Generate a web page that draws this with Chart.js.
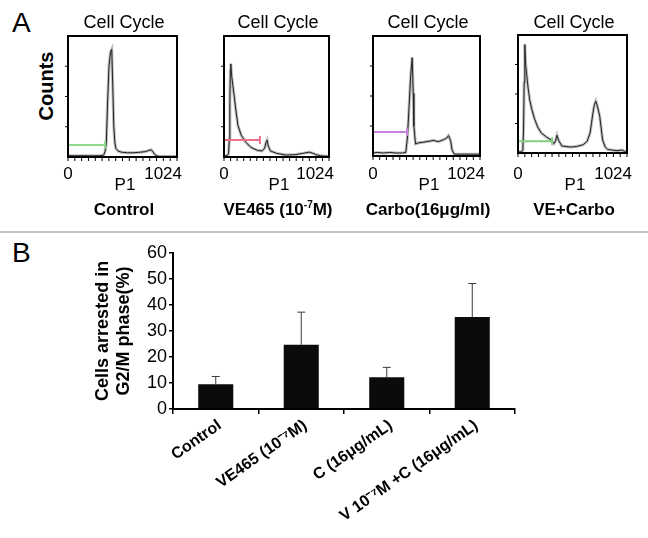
<!DOCTYPE html>
<html>
<head>
<meta charset="utf-8">
<script src="https://cdn.jsdelivr.net/npm/chart.js@4.4.1/dist/chart.umd.min.js"></script>
<style>
  body { margin: 0; background: #fff; }
  #page { position: relative; width: 648px; height: 538px; overflow: hidden; font-family: 'Liberation Sans', Arial, sans-serif; color: #000; }
  .t { position: absolute; line-height: 1; white-space: nowrap; }
  .c { transform: translateX(-50%); }
  canvas { position: absolute; }
  sup { font-size: 10px; vertical-align: 7px; line-height: 0; }
</style>
</head>
<body>
<div id="page">
  <div class="t" style="left:12px; top:9px; font-size:28px;">A</div>
  <div class="t" style="left:12px; top:239px; font-size:28px;">B</div>
  <div class="t" style="left:46px; top:86px; font-size:20px; font-weight:bold; transform:translate(-50%,-50%) rotate(-90deg);">Counts</div>
  <div style="position:absolute; left:0; top:231px; width:648px; height:2px; background:#c4c4c4;"></div>
  <canvas id="bars" width="563" height="298" style="left:85px; top:240px;"></canvas>
</div>
<script>
// panel A: DNA content histograms (x = channel 0..1024, y = relative counts)
const binsControl = [0, 100, 200, 300, 335, 350, 360, 370, 385, 400, 411, 420, 430, 440, 450, 470, 500, 560, 620, 680, 730, 760, 780, 800, 820, 850, 920, 1000, 1024];
const countsControl = [1, 1, 1, 1, 1.5, 5, 12, 40, 75, 87, 89, 60, 26, 12, 7, 5, 4, 3.5, 3.5, 4, 4.5, 5.5, 6, 4, 1.5, 0.5, 0.5, 0.5, 0.5];

const binsVE = [0, 30, 45, 52, 57, 62, 66, 76, 88, 100, 111, 136, 168, 215, 262, 325, 370, 395, 410, 420, 432, 452, 515, 607, 700, 768, 831, 870, 894, 942, 1024];
const countsVE = [1, 1, 3, 15, 45, 72, 77, 66, 58, 50, 42, 26, 18, 12, 8, 5.5, 5, 7, 12, 14, 9, 5, 3, 1.6, 2, 3, 4, 3, 2, 1, 0.5];

const binsCarbo = [0, 40, 100, 160, 220, 280, 314, 329, 344, 360, 375, 385, 391, 407, 437, 480, 515, 550, 577, 624, 660, 686, 705, 723, 742, 757, 779, 850, 950, 1024];
const countsCarbo = [2.5, 3, 2.5, 3, 2.5, 2.5, 3, 15, 39, 66, 82, 52, 25, 10, 11, 11.5, 12, 12.5, 13, 12, 13, 14, 15, 17, 13, 5, 1.5, 1.5, 1.5, 1.5];

const binsCombo = [0, 30, 45, 52, 58, 64, 72, 82, 95, 110, 130, 155, 185, 219, 260, 311, 338, 352, 366, 380, 411, 450, 494, 550, 613, 650, 677, 690, 704, 718, 731, 745, 768, 795, 820, 841, 880, 930, 978, 1000, 1024];
const countsCombo = [1, 1, 2, 20, 60, 92, 75, 66, 55, 45, 37, 29, 22, 17, 14, 11, 8, 10, 15, 11, 6, 5.5, 5, 5.5, 7, 10, 17, 25, 34, 41, 44, 40, 31, 11, 5, 3, 2.5, 2, 2.5, 1.5, 0.5];

const panelTitles = ['Control', 'VE465 (10<sup>-7</sup>M)', 'Carbo(16\u03bcg/ml)', 'VE+Carbo'];
const gateEnd = [347, 350, 326, 320];
const gateLevel = [10, 14, 20, 10];
const gateColors = ['#8fd98f', '#ee6f8c', '#c783dc', '#7fd07f'];

// panel B: cells arrested in G2/M
const groups = ['Control', 'VE465 (10\u207b\u2077M)', 'C (16\u03bcg/mL)', 'V 10\u207b\u2077M +C (16\u03bcg/mL)'];
const arrested = [9.5, 24.7, 12.2, 35.3];
const arrestedSD = [3, 12.5, 3.8, 12.9];
const yTicksB = [0, 60, 10];

Chart.defaults.font.family = "'Liberation Sans', Arial, sans-serif";
Chart.defaults.color = '#000';

const page = document.getElementById('page');
const boxes = [[68, 33, 112, 124], [224, 33, 108, 124], [373, 33, 110, 123], [518, 32, 112, 121]];

function addText(html, x, y, size, bold, align) {
  const d = document.createElement('div');
  d.className = 't' + (align === 'c' ? ' c' : '');
  d.innerHTML = html;
  d.style.fontSize = size + 'px';
  if (bold) d.style.fontWeight = 'bold';
  d.style.top = y + 'px';
  if (align === 'r') { d.style.right = (648 - x) + 'px'; } else { d.style.left = x + 'px'; }
  page.appendChild(d);
}

const frame = {
  id: 'frame',
  afterDraw(chart) {
    const { ctx, chartArea: a, scales } = chart;
    ctx.save();
    ctx.strokeStyle = '#000';
    ctx.lineWidth = 2;
    ctx.strokeRect(a.left, a.top, a.right - a.left, a.bottom - a.top);
    ctx.lineWidth = 1;
    ctx.beginPath();
    for (let v = 0; v <= 1024; v += 64) {
      const px = scales.x.getPixelForValue(v);
      ctx.moveTo(px, a.bottom);
      ctx.lineTo(px, a.bottom + 4);
    }
    for (let v = 25; v < 100; v += 25) {
      const py = scales.y.getPixelForValue(v);
      ctx.moveTo(a.left - 3, py);
      ctx.lineTo(a.left, py);
    }
    ctx.stroke();
    ctx.restore();
  }
};

function drawHistogram(i, bins, counts) {
  const [bx, by, bw, bh] = boxes[i];
  const cv = document.createElement('canvas');
  cv.width = bw + 11;
  cv.height = bh + 11;
  cv.style.left = (bx - 8) + 'px';
  cv.style.top = (by - 3) + 'px';
  page.appendChild(cv);

  const curve = bins.map((x, k) => ({ x: x, y: counts[k] }));
  new Chart(cv, {
    type: 'line',
    data: {
      datasets: [
        {
          data: [{ x: 0, y: gateLevel[i] }, { x: gateEnd[i], y: gateLevel[i] }],
          borderColor: gateColors[i],
          borderWidth: 2,
          pointStyle: 'line',
          pointRadius: 4,
          pointRotation: 90,
          pointBorderColor: gateColors[i],
          pointBorderWidth: 2,
        },
        { data: curve, borderColor: '#222', borderWidth: 1, pointRadius: 0 },
        { data: curve, borderColor: '#bdbdbd', borderWidth: 3, pointRadius: 0 },
      ],
    },
    options: {
      responsive: false,
      animation: false,
      layout: { padding: { left: 8, right: 3, top: 3, bottom: 8 } },
      plugins: { legend: { display: false }, tooltip: { enabled: false } },
      scales: {
        x: { type: 'linear', min: 0, max: 1024, display: false },
        y: { min: 0, max: 100, display: false },
      },
    },
    plugins: [frame],
  });

  const cx = bx + bw / 2;
  addText('Cell Cycle', cx, 12.5, 18, false, 'c');
  addText('0', bx, 165, 17, false, 'c');
  addText('1024', bx + bw + 2, 165, 17, false, 'r');
  addText('P1', cx + 1, 176, 17, false, 'c');
  addText(panelTitles[i], cx, 201, 17, true, 'c');
}

drawHistogram(0, binsControl, countsControl);
drawHistogram(1, binsVE, countsVE);
drawHistogram(2, binsCarbo, countsCarbo);
drawHistogram(3, binsCombo, countsCombo);

const errorBars = {
  id: 'errorBars',
  afterDatasetsDraw(chart) {
    const { ctx, scales: { y } } = chart;
    const meta = chart.getDatasetMeta(0);
    ctx.save();
    ctx.strokeStyle = '#3a3a3a';
    ctx.lineWidth = 1;
    meta.data.forEach((bar, i) => {
      const top = y.getPixelForValue(arrested[i] + arrestedSD[i]);
      ctx.beginPath();
      ctx.moveTo(bar.x, bar.y);
      ctx.lineTo(bar.x, top);
      ctx.moveTo(bar.x - 4, top);
      ctx.lineTo(bar.x + 4, top);
      ctx.stroke();
    });
    ctx.restore();
  }
};

new Chart(document.getElementById('bars'), {
  type: 'bar',
  data: {
    labels: groups,
    datasets: [{
      data: arrested,
      backgroundColor: '#0b0b0b',
      borderWidth: 0,
      barPercentage: 0.41,
      categoryPercentage: 1,
    }],
  },
  options: {
    responsive: false,
    animation: false,
    layout: { padding: { left: 0, right: 133, top: 11, bottom: 0 } },
    plugins: { legend: { display: false }, tooltip: { enabled: false } },
    scales: {
      x: {
        grid: { display: true, drawOnChartArea: false, drawTicks: true, tickLength: 5, color: '#000', lineWidth: 1.5, offset: true },
        border: { color: '#000', width: 2 },
        ticks: { color: '#000', font: { size: 16, weight: 'bold' }, minRotation: 35, maxRotation: 35, padding: 2, labelOffset: 4, autoSkip: false },
        afterFit: (s) => { s.height = 129; },
      },
      y: {
        min: yTicksB[0],
        max: yTicksB[1],
        ticks: { stepSize: yTicksB[2], color: '#000', font: { size: 18 }, padding: 2 },
        grid: { drawOnChartArea: false, tickLength: 4, color: '#000', lineWidth: 1.5 },
        border: { color: '#000', width: 2 },
        title: {
          display: true,
          text: ['Cells arrested in', 'G2/M phase(%)'],
          color: '#000',
          font: { size: 18, weight: 'bold' },
          padding: { top: 7, bottom: 0 },
        },
        afterFit: (s) => { s.width = 88; },
      },
    },
  },
  plugins: [errorBars],
});
</script>
</body>
</html>
